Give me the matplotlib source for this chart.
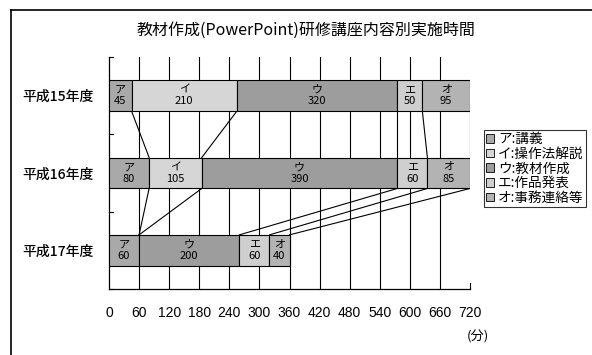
import matplotlib
matplotlib.use("Agg")
import matplotlib.pyplot as plt
from matplotlib.lines import Line2D
from matplotlib.patches import Patch
import numpy as np

plt.rcParams['font.family'] = ['Noto Sans CJK JP', 'DejaVu Sans']

# Data
years = ["平成15年度", "平成16年度", "平成17年度"]
items = ["ア", "イ", "ウ", "エ", "オ"]
legend_labels = ["ア:講義", "イ:操作法解説", "ウ:教材作成", "エ:作品発表", "オ:事務連絡等"]
minutes = {
    "ア": [45, 80, 60],
    "イ": [210, 105, 0],
    "ウ": [320, 390, 200],
    "エ": [50, 60, 60],
    "オ": [95, 85, 40],
}
xticks = [0, 60, 120, 180, 240, 300, 360, 420, 480, 540, 600, 660, 720]
colors = ["#a9a9a9", "#d6d6d6", "#9d9d9d", "#cfcfcf", "#b3b3b3"]

fig = plt.figure(figsize=(5.92, 3.55), dpi=100)
ax = fig.add_axes([109 / 592, 66 / 355, 361 / 592, 232 / 355])

ypos = np.arange(len(years))
bar_h = 0.40
left = np.zeros(len(years))
bounds = []
for item, col in zip(items, colors):
    vals = np.array(minutes[item], dtype=float)
    for i, v in enumerate(vals):
        if v <= 0:
            continue
        ax.barh(ypos[i], v, left=left[i], height=bar_h, color=col,
                edgecolor="black", linewidth=0.8, zorder=3)
        ax.text(left[i] + v / 2, ypos[i], f"{item}\n{int(v)}", ha="center",
                va="center", fontsize=8, linespacing=1.2, zorder=4)
    left = left + vals
    bounds.append(left.copy())

# Series lines joining segment boundaries between adjacent bars
for b in bounds:
    for i in range(len(years) - 1):
        ax.plot([b[i], b[i + 1]], [ypos[i] + bar_h / 2, ypos[i + 1] - bar_h / 2],
                color="black", linewidth=0.8, zorder=2)

ax.set_xlim(0, 720)
ax.set_ylim(len(years) - 0.5, -0.5)
ax.set_xticks(xticks)
ax.set_xticklabels([str(t) for t in xticks], fontsize=10,
                   family=['Liberation Sans', 'DejaVu Sans'])
ax.set_yticks(ypos)
ax.set_yticklabels(years, fontsize=10, fontweight="medium")
ax.tick_params(axis='y', length=0, pad=11)
ax.tick_params(axis='x', length=0, pad=12)
for x in xticks[1:-1]:
    ax.axvline(x, color="black", linewidth=0.8, zorder=1)
# Inward tick marks at category boundaries and axis end
for yb in np.arange(-0.5, len(years), 1.0):
    ax.plot([0, 8], [yb, yb], color="black", linewidth=0.8, zorder=2, clip_on=False)
ax.plot([720, 720], [2.5, 2.42], color="black", linewidth=0.8, clip_on=False)

for s in ["top", "right"]:
    ax.spines[s].set_visible(False)
ax.spines["left"].set_linewidth(0.9)
ax.spines["bottom"].set_linewidth(0.9)

fig.text(306 / 592, 1 - 30 / 355, "教材作成(PowerPoint)研修講座内容別実施時間",
         ha="center", va="center", fontsize=11.5)
fig.text(478 / 592, 1 - 337 / 355, "(分)", ha="center", va="center", fontsize=9.5)

handles = [Patch(facecolor=c, edgecolor="black", linewidth=0.6) for c in colors]
leg = fig.legend(handles, legend_labels, loc="upper left",
                 bbox_to_anchor=(484 / 592, 1 - 130 / 355), fontsize=9.8,
                 frameon=True, fancybox=False, handlelength=0.6, handleheight=0.6,
                 handletextpad=0.3, borderpad=0.15, labelspacing=0.05,
                 borderaxespad=0)
leg.get_frame().set_edgecolor("black")
leg.get_frame().set_linewidth(0.8)

# Outer chart frame
fig.add_artist(Line2D([11 / 592, 11 / 592], [0, 1 - 10 / 355], color="black", linewidth=1.2))
fig.add_artist(Line2D([11 / 592, 1], [1 - 10 / 355, 1 - 10 / 355], color="black", linewidth=1.2))

fig.savefig("out.png", dpi=100)
